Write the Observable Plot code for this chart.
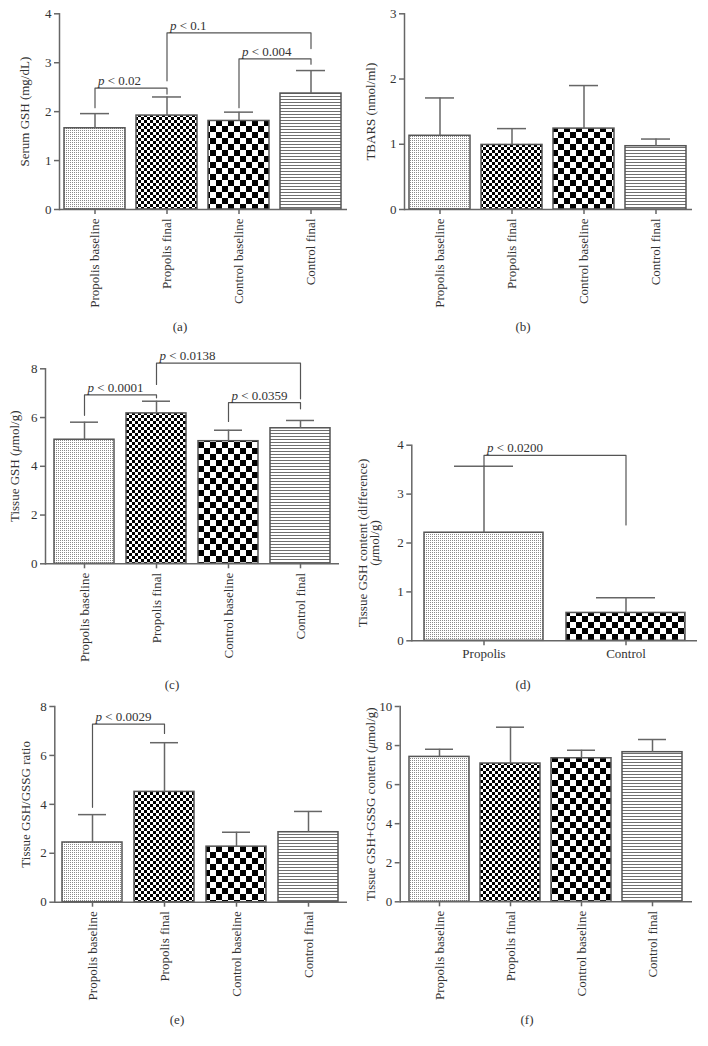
<!DOCTYPE html>
<html><head><meta charset="utf-8">
<script src="https://cdn.jsdelivr.net/npm/d3@7"></script>
<script src="https://cdn.jsdelivr.net/npm/@observablehq/plot@0.6"></script>
<style>
body{margin:0;background:#fff;}
#root{position:relative;width:708px;height:1046px;font-family:"Liberation Serif","Times New Roman",serif;}
.cap{position:absolute;font:13px "Liberation Serif","Times New Roman",serif;color:#333;transform:translate(-50%,-50%);white-space:nowrap;}
</style></head><body>
<svg width="0" height="0" style="position:absolute"><defs>
<pattern id="pDots" width="2" height="2" patternUnits="userSpaceOnUse"><rect width="2" height="2" fill="#fff"/><rect width="1" height="1" fill="#8a8a8a"/></pattern>
<pattern id="pFine" width="6" height="6" patternUnits="userSpaceOnUse"><rect width="6" height="6" fill="#fff"/><rect width="3" height="3" fill="#000"/><rect x="3" y="3" width="3" height="3" fill="#000"/></pattern>
<pattern id="pCoarse" width="12" height="12" patternUnits="userSpaceOnUse"><rect width="12" height="12" fill="#fff"/><rect width="6" height="6" fill="#000"/><rect x="6" y="6" width="6" height="6" fill="#000"/></pattern>
<pattern id="pLines" width="4" height="3" patternUnits="userSpaceOnUse"><rect width="4" height="3" fill="#fff"/><rect width="4" height="1" fill="#6f6f6f"/></pattern>
</defs></svg>
<div id="root"></div>
<script>
// ---- categories ----
const groups4 = ["Propolis baseline", "Propolis final", "Control baseline", "Control final"];
const groups2 = ["Propolis", "Control"];

// ---- (a) Serum GSH (mg/dL) ----
const serumGSHMean = [1.66, 1.92, 1.81, 2.37];
const serumGSHSD   = [0.30, 0.38, 0.18, 0.47];
// ---- (b) TBARS (nmol/ml) ----
const tbarsMean = [1.13, 0.99, 1.24, 0.97];
const tbarsSD   = [0.58, 0.25, 0.66, 0.11];
// ---- (c) Tissue GSH (μmol/g) ----
const tissueGSHMean = [5.09, 6.17, 5.03, 5.56];
const tissueGSHSD   = [0.72, 0.50, 0.45, 0.32];
// ---- (d) Tissue GSH content difference (μmol/g) ----
const diffMean = [2.21, 0.57];
const diffSD   = [1.36, 0.31];
// ---- (e) Tissue GSH/GSSG ratio ----
const ratioMean = [2.44, 4.51, 2.27, 2.86];
const ratioSD   = [1.14, 2.01, 0.59, 0.85];
// ---- (f) Tissue GSH+GSSG content (μmol/g) ----
const totalMean = [7.42, 7.08, 7.35, 7.66];
const totalSD   = [0.39, 1.86, 0.41, 0.65];

// ---- significance brackets: [fromIndex, toIndex, topValue, leftLegEnd, rightLegEnd, label] ----
const bracketsA = [[0, 1, 2.48, 2.08, 2.36, "p < 0.02"], [1, 3, 3.61, 2.63, 3.29, "p < 0.1"], [2, 3, 3.08, 2.08, 2.97, "p < 0.004"]];
const bracketsB = [];
const bracketsC = [[0, 1, 6.93, 6.09, 6.81, "p < 0.0001"], [1, 3, 8.23, 7.36, 6.77, "p < 0.0138"], [2, 3, 6.61, 5.84, 6.36, "p < 0.0359"]];
const bracketsD = [[0, 1, 3.79, 3.57, 2.37, "p < 0.0200"]];
const bracketsE = [[0, 1, 7.28, 3.88, 6.90, "p < 0.0029"]];
const bracketsF = [];

// ---- axis labels / ticks ----
const yLabels = ["Serum GSH (mg/dL)", "TBARS (nmol/ml)", "Tissue GSH (μmol/g)", "Tissue GSH content (difference)\n(μmol/g)", "Tissue GSH/GSSG ratio", "Tissue GSH+GSSG content (μmol/g)"];
const yTicksA = [0, 1, 2, 3, 4];
const yTicksB = [0, 1, 2, 3];
const yTicksC = [0, 2, 4, 6, 8];
const yTicksD = [0, 1, 2, 3, 4];
const yTicksE = [0, 2, 4, 6, 8];
const yTicksF = [0, 2, 4, 6, 8, 10];
const captions = ["(a)", "(b)", "(c)", "(d)", "(e)", "(f)"];

const patterns4 = ["url(#pDots)", "url(#pFine)", "url(#pCoarse)", "url(#pLines)"];
const patterns2 = ["url(#pDots)", "url(#pCoarse)"];

const panels = [
  {cats: groups4, mean: serumGSHMean, sd: serumGSHSD, br: bracketsA, ticks: yTicksA, label: yLabels[0], pats: patterns4,
   L: {left: 0, top: 0, W: 354, H: 318, mL: 59, mR: 7, mT: 13.3, y0: 209, pi: 0.15, po: 0.075, ldx: -34, rot: -90, cap: 16, capX: 180, capY: 327}},
  {cats: groups4, mean: tbarsMean, sd: tbarsSD, br: bracketsB, ticks: yTicksB, label: yLabels[1], pats: patterns4,
   L: {left: 354, top: 0, W: 354, H: 318, mL: 50, mR: 16, mT: 13.3, y0: 209, pi: 0.15, po: 0.075, ldx: -33, rot: -90, cap: 16, capX: 523, capY: 327}},
  {cats: groups4, mean: tissueGSHMean, sd: tissueGSHSD, br: bracketsC, ticks: yTicksC, label: yLabels[2], pats: patterns4,
   L: {left: 0, top: 340, W: 354, H: 330, mL: 45, mR: 15, mT: 28.3, y0: 223.3, pi: 0.16, po: 0.12, ldx: -30, rot: -90, cap: 16, capX: 172, capY: 685}},
  {cats: groups2, mean: diffMean, sd: diffSD, br: bracketsD, ticks: yTicksD, label: yLabels[3], pats: patterns2,
   L: {left: 354, top: 340, W: 354, H: 330, mL: 57.3, mR: 11, mT: 104.7, y0: 300.3, pi: 0.16, po: 0.08, ldx: -43, rot: 0, cap: 30, capX: 523, capY: 685}},
  {cats: groups4, mean: ratioMean, sd: ratioSD, br: bracketsE, ticks: yTicksE, label: yLabels[4], pats: patterns4,
   L: {left: 0, top: 690, W: 354, H: 310, mL: 54.3, mR: 7, mT: 16, y0: 211.7, pi: 0.16, po: 0.1, ldx: -29, rot: -90, cap: 16, capX: 177, capY: 1020}},
  {cats: groups4, mean: totalMean, sd: totalSD, br: bracketsF, ticks: yTicksF, label: yLabels[5], pats: patterns4,
   L: {left: 354, top: 690, W: 354, H: 310, mL: 45.7, mR: 16, mT: 16, y0: 211.3, pi: 0.15, po: 0.11, ldx: -29, rot: -90, cap: 16, capX: 527, capY: 1020}}
];

function italicize(svg) {
  const walker = document.createTreeWalker(svg, NodeFilter.SHOW_TEXT);
  const nodes = [];
  while (walker.nextNode()) nodes.push(walker.currentNode);
  const ns = "http://www.w3.org/2000/svg";
  for (const n of nodes) {
    const s = n.nodeValue;
    if (!/^p <|μ/.test(s)) continue;
    const parts = s.split(/(^p(?= <)|μ)/).filter(t => t !== "" && t !== undefined);
    const frag = document.createDocumentFragment();
    for (const part of parts) {
      if (part === "p" || part === "μ") {
        const t = document.createElementNS(ns, "tspan");
        t.setAttribute("font-style", "italic");
        t.textContent = part;
        frag.appendChild(t);
      } else frag.appendChild(document.createTextNode(part));
    }
    n.parentNode.replaceChild(frag, n);
  }
}

const root = document.getElementById("root");
const font = '"Liberation Serif","Times New Roman",serif';

panels.forEach((p, k) => {
  const L = p.L;
  const data = p.cats.map((c, i) => ({cat: c, mean: p.mean[i], sd: p.sd[i]}));
  const pts = [];
  const labs = [];
  p.br.forEach(([a, b, top, le, re, lab], j) => {
    pts.push({k: j, cat: p.cats[a], y: le}, {k: j, cat: p.cats[a], y: top}, {k: j, cat: p.cats[b], y: top}, {k: j, cat: p.cats[b], y: re});
    labs.push({cat: p.cats[a], y: top, label: lab});
  });
  const ymax = p.ticks[p.ticks.length - 1];
  const svg = Plot.plot({
    width: L.W, height: L.H,
    marginLeft: L.mL, marginRight: L.mR, marginTop: L.mT, marginBottom: L.H - L.y0,
    style: {fontFamily: font, fontSize: "13px", color: "#333", background: "transparent", overflow: "visible"},
    x: {domain: p.cats, paddingInner: L.pi, paddingOuter: L.po},
    y: {domain: [0, ymax]},
    color: {type: "ordinal", domain: p.cats, range: p.pats},
    marks: [
      Plot.barY(data, {x: "cat", y: "mean", fill: "cat", stroke: "#555", strokeWidth: 1.5}),
      Plot.ruleX(data, {x: "cat", y1: "mean", y2: d => d.mean + d.sd, stroke: "#666", strokeWidth: 1.5}),
      Plot.tickY(data, {x: "cat", y: d => d.mean + d.sd, stroke: "#666", strokeWidth: 1.5, insetLeft: L.cap, insetRight: L.cap}),
      Plot.ruleY([0], {stroke: "#666", strokeWidth: 1.5}),
      Plot.frame({anchor: "left", stroke: "#666", strokeWidth: 1.5}),
      Plot.axisY({ticks: p.ticks, tickFormat: d3.format("d"), tickSize: 5, tickPadding: 3, label: null, stroke: "#666", strokeWidth: 1.5, fill: "#333", fontSize: 13}),
      Plot.axisX({tickSize: 5, tickPadding: L.rot ? 4 : 3, tickRotate: L.rot, label: null, stroke: "#666", strokeWidth: 1.5, fill: "#333", fontSize: 13}),
      Plot.line(pts, {x: "cat", y: "y", z: "k", stroke: "#555", strokeWidth: 1.2, curve: "linear"}),
      Plot.text(labs, {x: "cat", y: "y", text: "label", textAnchor: "start", lineAnchor: "bottom", dx: 3, dy: -3, fill: "#333", fontSize: 13}),
      Plot.text([p.label], {frameAnchor: "left", text: d => d, rotate: -90, textAnchor: "middle", lineAnchor: "middle", dx: L.ldx, fill: "#333", fontSize: 13, lineHeight: 0.95})
    ]
  });
  svg.style.position = "absolute";
  svg.style.left = L.left + "px";
  svg.style.top = L.top + "px";
  italicize(svg);
  root.appendChild(svg);
  const cap = document.createElement("div");
  cap.className = "cap";
  cap.textContent = captions[k];
  cap.style.left = L.capX + "px";
  cap.style.top = L.capY + "px";
  root.appendChild(cap);
});
</script>
</body></html>
